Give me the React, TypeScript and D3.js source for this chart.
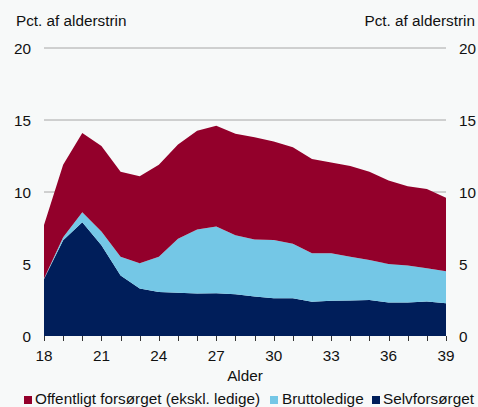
import React from "react";
import * as d3 from "d3";

const ages = [18,19,20,21,22,23,24,25,26,27,28,29,30,31,32,33,34,35,36,37,38,39];
const selvforsoerget = [3.95,6.65,7.9,6.3,4.2,3.3,3.05,3.0,2.95,2.97,2.9,2.75,2.62,2.62,2.38,2.45,2.47,2.5,2.32,2.32,2.4,2.28];
const bruttoledige = [0.05,0.2,0.7,0.95,1.3,1.75,2.45,3.75,4.45,4.63,4.1,3.95,4.05,3.78,3.37,3.3,3.03,2.78,2.68,2.58,2.3,2.22];
const offentligt = [3.7,5.05,5.5,5.95,5.9,6.05,6.4,6.55,6.85,7.0,7.05,7.1,6.83,6.7,6.55,6.3,6.3,6.12,5.8,5.5,5.5,5.1];
const yTicks = [0,5,10,15,20];
const xTickLabels = [18,21,24,27,30,33,36,39];
const seriesNames = ["Offentligt forsørget (ekskl. ledige)", "Bruttoledige", "Selvforsørget"];
const colors = ["#93002B", "#74C7E6", "#001E5A"];

export default function App() {
  const W = 478, H = 407;
  const left = 44, right = 446, top = 48, bottom = 336;
  const x = d3.scaleLinear().domain([18, 39]).range([left, right]);
  const y = d3.scaleLinear().domain([0, 20]).range([bottom, top]);
  const rows = ages.map((a, i) => ({ age: a, s: selvforsoerget[i], b: bruttoledige[i], o: offentligt[i] }));
  const stack = d3.stack<any>().keys(["s", "b", "o"]);
  const layers = stack(rows);
  const area = d3.area<any>().x((d) => x(d.data.age)).y0((d) => y(d[0])).y1((d) => y(d[1]));
  const colorByKey: Record<string, string> = { s: colors[2], b: colors[1], o: colors[0] };
  const font = "'Liberation Sans', Arial, sans-serif";
  const fs = 15.3;
  const legend = [
    { name: seriesNames[0], color: colors[0], sx: 24, tx: 35 },
    { name: seriesNames[1], color: colors[1], sx: 270, tx: 282 },
    { name: seriesNames[2], color: colors[2], sx: 372, tx: 383 },
  ];
  return (
    <svg width={W} height={H} style={{ position: "absolute", left: 0, top: 0, background: "#f7f9f9" }} fontFamily={font}>
      <rect x={0} y={0} width={W} height={H} fill="#f7f9f9" />
      {yTicks.filter((t) => t > 0).map((t) => (
        <line key={t} x1={left} x2={right} y1={y(t)} y2={y(t)} stroke="#a6a6a6" strokeWidth={1} />
      ))}
      {layers.map((l) => (
        <path key={l.key} d={area(l) || ""} fill={colorByKey[l.key]} />
      ))}
      {ages.map((a) => (
        <line key={a} x1={Math.round(x(a)) + 0.5} x2={Math.round(x(a)) + 0.5} y1={bottom} y2={bottom + 5} stroke="#333" strokeWidth={1} />
      ))}
      {xTickLabels.map((a) => (
        <text key={a} x={x(a)} y={361} fontSize={fs} textAnchor="middle" fill="#111">{a}</text>
      ))}
      {yTicks.map((t) => (
        <g key={t}>
          <text x={31} y={y(t) + 5.5} fontSize={fs} textAnchor="end" fill="#111">{t}</text>
          <text x={459} y={y(t) + 5.5} fontSize={fs} textAnchor="start" fill="#111">{t}</text>
        </g>
      ))}
      <text x={16} y={26} fontSize={fs} fill="#111">Pct. af alderstrin</text>
      <text x={475} y={26} fontSize={fs} textAnchor="end" fill="#111">Pct. af alderstrin</text>
      <text x={245} y={381} fontSize={fs} textAnchor="middle" fill="#111">Alder</text>
      {legend.map((l) => (
        <g key={l.name}>
          <rect x={l.sx} y={396} width={8} height={8} fill={l.color} />
          <text x={l.tx} y={404} fontSize={fs} fill="#111">{l.name}</text>
        </g>
      ))}
    </svg>
  );
}
